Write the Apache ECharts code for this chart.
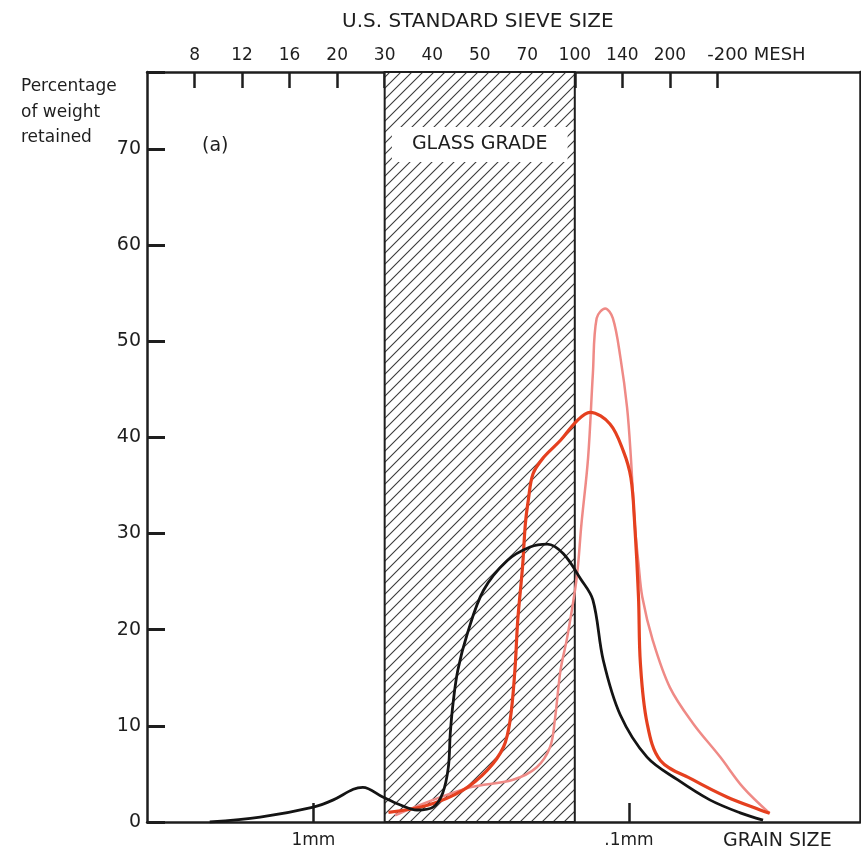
<!DOCTYPE html>
<html><head><meta charset="utf-8">
<script src="https://cdn.jsdelivr.net/npm/echarts@6/dist/echarts.min.js"></script>
<style>html,body{margin:0;padding:0;background:#fff}#c{width:861px;height:859px}</style>
</head><body><div id="c"></div>
<script>
// x values are in phi units (-log2 of grain size in mm)
const sievePhi = [-1.25, -0.75, -0.25, 0.25, 0.75, 1.25, 1.75, 2.25, 2.75, 3.25, 3.75, 4.25];
const sieveLabels = ['8', '12', '16', '20', '30', '40', '50', '70', '100', '140', '200', '-200 MESH'];
const sizeTickPhi = [0, 3.32];
const sizeLabelPhi = [0, 3.32, 4.88];
const sizeLabels = ['1mm', '.1mm', 'GRAIN SIZE'];
const glassGrade = [0.75, 2.75];

const blackX = [-1.09, -0.56, 0.0, 0.21, 0.42, 0.52, 0.73, 0.91, 1.09, 1.26, 1.36, 1.42, 1.44, 1.47, 1.52, 1.62, 1.79, 2.04, 2.28, 2.46, 2.63, 2.81, 2.94, 3.05, 3.23, 3.51, 3.83, 4.17, 4.49, 4.73];
const blackY = [0, 0.5, 1.55, 2.3, 3.4, 3.6, 2.6, 1.8, 1.25, 1.55, 3.0, 5.7, 9.2, 12.4, 15.8, 19.6, 24.1, 27.2, 28.6, 28.9, 27.9, 25.3, 23.1, 16.8, 11.1, 6.75, 4.4, 2.3, 0.95, 0.2];

const redX = [0.79, 1.20, 1.57, 1.83, 2.00, 2.07, 2.12, 2.15, 2.20, 2.23, 2.26, 2.31, 2.42, 2.60, 2.77, 2.91, 3.12, 3.26, 3.34, 3.38, 3.42, 3.44, 3.51, 3.65, 3.99, 4.35, 4.70, 4.80];
const redY = [1.0, 1.75, 3.3, 5.4, 7.8, 10.6, 15.8, 21, 26.5, 31, 33.4, 36.2, 37.9, 39.7, 41.7, 42.6, 41.4, 38.6, 35.8, 31, 23.4, 16.5, 10.3, 6.4, 4.4, 2.6, 1.25, 0.9];

const pinkX = [0.86, 1.26, 1.65, 2.10, 2.35, 2.49, 2.54, 2.60, 2.67, 2.77, 2.82, 2.89, 2.94, 2.98, 3.07, 3.15, 3.23, 3.30, 3.34, 3.38, 3.42, 3.46, 3.57, 3.75, 3.99, 4.28, 4.52, 4.80];
const pinkY = [0.7, 2.3, 3.6, 4.4, 5.7, 7.8, 10.6, 15.8, 19.2, 25.4, 31, 37.9, 46.6, 52.4, 53.4, 52.4, 48.3, 43.1, 37.9, 31, 26.9, 23.4, 18.9, 14, 10.3, 6.75, 3.6, 0.9];

const zip = (xs, ys) => xs.map((x, i) => [x, ys[i]]);
const FONT = 'DejaVu Sans';
const INK = '#1e1e1e';

function hatchCanvas() {
  const p = 11;
  const c = document.createElement('canvas');
  c.width = p; c.height = p;
  const g = c.getContext('2d');
  g.fillStyle = '#fff'; g.fillRect(0, 0, p, p);
  g.strokeStyle = '#3a3a3a'; g.lineWidth = 1.1;
  g.beginPath();
  g.moveTo(0, p); g.lineTo(p, 0);
  g.moveTo(-p / 2, p / 2); g.lineTo(p / 2, -p / 2);
  g.moveTo(p / 2, p * 1.5); g.lineTo(p * 1.5, p / 2);
  g.stroke();
  return c;
}
const near = (arr, v) => arr.findIndex(a => Math.abs(a - v) < 1e-6);

const chart = echarts.init(document.getElementById('c'), null, { renderer: 'canvas' });
chart.setOption({
  animation: false,
  backgroundColor: '#fff',
  textStyle: { fontFamily: FONT },
  title: [
    { text: 'U.S. STANDARD SIEVE SIZE', left: 337, top: 7, textStyle: { fontFamily: FONT, fontSize: 20, fontWeight: 'normal', color: INK } },
    { text: 'Percentage\nof weight\nretained', left: 16, top: 69, textStyle: { fontFamily: FONT, fontSize: 17, lineHeight: 25.5, fontWeight: 'normal', color: INK } },
    { text: '(a)', left: 197, top: 132, textStyle: { fontFamily: FONT, fontSize: 19, fontWeight: 'normal', color: INK } }
  ],
  grid: { left: 147, right: 1, top: 72, bottom: 37 },
  xAxis: [
    {
      type: 'value', position: 'top', min: -1.75, max: 5.75,
      splitLine: { show: false },
      axisLine: { onZero: false, lineStyle: { color: INK, width: 2.5 } },
      axisTick: { inside: true, length: 16, lineStyle: { color: INK, width: 2.5 }, customValues: sievePhi },
      axisLabel: {
        margin: 8, color: INK, fontSize: 17, fontFamily: FONT, customValues: sievePhi,
        formatter: v => { const i = near(sievePhi, v); const s = sieveLabels[i] || ''; return i === sieveLabels.length - 1 ? '{m|' + s + '}' : s; },
        rich: { m: { fontSize: 18, fontFamily: FONT, color: INK, padding: [0, 0, 0, 78] } }
      }
    },
    {
      type: 'value', position: 'bottom', min: -1.75, max: 5.75,
      splitLine: { show: false },
      axisLine: { onZero: false, lineStyle: { color: INK, width: 2.5 } },
      axisTick: { inside: true, length: 19, lineStyle: { color: INK, width: 2.5 }, customValues: sizeTickPhi },
      axisLabel: {
        margin: 10, color: INK, fontSize: 17, fontFamily: FONT, customValues: sizeLabelPhi,
        formatter: v => { const i = near(sizeLabelPhi, v); const s = sizeLabels[i] || ''; return i === 2 ? '{g|' + s + '}' : s; },
        rich: { g: { fontSize: 19, fontFamily: FONT, color: INK } }
      }
    }
  ],
  yAxis: [
    {
      type: 'value', position: 'left', min: 0, max: 78, interval: 10,
      splitLine: { show: false },
      axisLine: { show: true, onZero: false, lineStyle: { color: INK, width: 2.5 } },
      axisTick: { show: true, inside: true, length: 18, lineStyle: { color: INK, width: 3 } },
      axisLabel: { margin: 6, color: INK, fontSize: 19, fontFamily: FONT, formatter: v => (v % 10 === 0 && v <= 70 ? String(v) : '') }
    },
    {
      type: 'value', position: 'right', min: 0, max: 78,
      splitLine: { show: false },
      axisLine: { show: true, onZero: false, lineStyle: { color: INK, width: 2.5 } },
      axisTick: { show: false }, axisLabel: { show: false }
    }
  ],
  series: [
    {
      type: 'line', xAxisIndex: 0, yAxisIndex: 0, data: [], z: 1, silent: true,
      markArea: {
        silent: true,
        itemStyle: { color: { image: hatchCanvas(), repeat: 'repeat' }, opacity: 1, borderColor: INK, borderWidth: 2 },
        label: {
          show: true, position: 'insideTop', distance: 56, formatter: 'GLASS GRADE',
          color: INK, fontSize: 19, fontFamily: FONT, backgroundColor: '#fff', padding: [8, 20]
        },
        data: [[{ xAxis: glassGrade[0] }, { xAxis: glassGrade[1] }]]
      }
    },
    { name: 'pink', type: 'line', xAxisIndex: 0, data: zip(pinkX, pinkY), smooth: 0.35, showSymbol: false, z: 3, lineStyle: { color: '#ef8a86', width: 2.5 } },
    { name: 'red', type: 'line', xAxisIndex: 0, data: zip(redX, redY), smooth: 0.35, showSymbol: false, z: 4, lineStyle: { color: '#e5401f', width: 3.2 } },
    { name: 'black', type: 'line', xAxisIndex: 0, data: zip(blackX, blackY), smooth: 0.35, showSymbol: false, z: 5, lineStyle: { color: '#141414', width: 2.8 } }
  ]
});
</script></body></html>
